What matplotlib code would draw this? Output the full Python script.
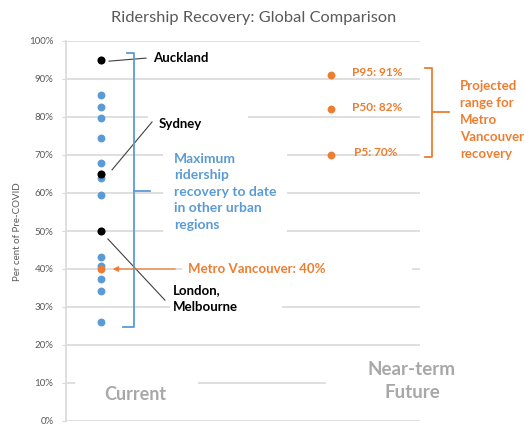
import matplotlib
matplotlib.use('Agg')
import matplotlib.pyplot as plt
from matplotlib.patches import Rectangle
import numpy as np

plt.rcParams['font.family'] = ['Lato', 'DejaVu Sans']

BLUE = '#5b9bd5'
ORANGE = '#ed7d31'
GRID = '#d9d9d9'
GREY = '#595959'
LIGHT = '#a8a8a8'

# other urban regions, max recovery to date (share of pre-COVID)
other_regions = [0.858, 0.827, 0.798, 0.746, 0.678, 0.640, 0.595,
                 0.431, 0.408, 0.373, 0.342, 0.261]
# highlighted cities
named_cities = ['Auckland', 'Sydney', 'London, Melbourne']
named_values = [0.95, 0.65, 0.50]
vancouver_now = 0.40
# near-term projection percentiles
proj_labels = ['P95', 'P50', 'P5']
proj_values = [0.91, 0.82, 0.70]
columns = ['Current', 'Near-term\nFuture']

fig = plt.figure(figsize=(5.24, 4.26), dpi=100)
W, H = 524, 426
ax = fig.add_axes([66 / W, 1 - 421 / H, (420 - 66) / W, (421 - 41) / H])

x_cur, x_fut = 0, 1
ax.set_xlim(-35 / 230, 319 / 230)
ax.set_ylim(0, 1)

ax.set_yticks(np.arange(0, 1.01, 0.1))
ax.set_yticklabels(['%d%%' % round(v * 100) for v in np.arange(0, 1.01, 0.1)])
ax.set_xticks([])
ax.yaxis.grid(True, color=GRID, lw=1.2, zorder=0)
ax.set_axisbelow(True)
ax.tick_params(axis='y', length=3, color=GRID, labelsize=7,
               labelcolor=GREY, pad=6)
for side in ['top', 'right', 'bottom']:
    ax.spines[side].set_visible(False)
ax.spines['left'].set_color(GRID)
ax.spines['left'].set_linewidth(1.2)


def fbox(x0, y0, x1, y1):
    # white backing that hides gridlines behind a text block (pixel coords)
    ax.add_patch(Rectangle((x0 / W, 1 - y1 / H), (x1 - x0) / W, (y1 - y0) / H,
                           transform=fig.transFigure, fc='white', ec='none',
                           zorder=1))


fbox(163, 140, 287, 240)   # blue note
fbox(148, 108, 248, 135)   # Sydney
fbox(170, 280, 282, 318)   # London, Melbourne
fbox(182, 260, 412, 278)   # Metro Vancouver
fbox(75, 375, 198, 410)    # Current
fbox(326, 355, 420, 408)   # Near-term Future

# points
ax.scatter([x_cur] * len(other_regions), other_regions, s=32, color=BLUE,
           zorder=3, linewidths=0)
ax.scatter([x_cur] * len(named_values), named_values, s=34, color='black',
           zorder=4, linewidths=0)
ax.scatter([x_cur], [vancouver_now], s=32, color=ORANGE, zorder=4,
           linewidths=0)
ax.scatter([x_fut] * len(proj_values), proj_values, s=32, color=ORANGE,
           zorder=3, linewidths=0)

# city labels with leader lines
label_kw = dict(fontsize=9.5, fontweight='bold', color='black', va='center',
                zorder=5)
ax.plot([0.035, 0.196], [named_values[0] - 0.003, named_values[0] + 0.005],
        color='#404040', lw=0.8, zorder=3)
ax.text(0.226, 0.955, named_cities[0], **label_kw)
ax.plot([0.048, 0.222], [named_values[1] + 0.011, 0.787],
        color='#404040', lw=0.8, zorder=3)
ax.text(0.252, 0.782, named_cities[1], **label_kw)
ax.plot([0.03, 0.278], [named_values[2] - 0.021, 0.318],
        color='#404040', lw=0.8, zorder=3)
ax.text(0.313, 0.322, named_cities[2].replace(' ', '\n'), linespacing=1.55,
        **label_kw)

# Metro Vancouver arrow
ax.annotate('', xy=(0.039, vancouver_now), xytext=(0.335, vancouver_now),
            arrowprops=dict(arrowstyle='-|>', color=ORANGE, lw=0.9,
                            mutation_scale=8), zorder=5)
ax.text(0.378, vancouver_now, 'Metro Vancouver: %d%%' % round(vancouver_now * 100),
        fontsize=9.5, fontweight='bold', color=ORANGE, va='center', zorder=5)

# blue bracket around other regions
bx, btop, bbot, bmid = 0.143, 0.968, 0.247, 0.605
ax.plot([0.113, bx, bx, 0.096], [btop, btop, bbot, bbot], color=BLUE, lw=1.3,
        zorder=3, solid_joinstyle='round')
ax.plot([bx, 0.213], [bmid, bmid], color=BLUE, lw=1.3, zorder=3)
ax.text(0.317, 0.603,
        'Maximum\nridership\nrecovery to date\nin other urban\nregions',
        fontsize=10, fontweight='bold', color=BLUE, va='center', ha='left',
        linespacing=1.45, zorder=5)

# projection labels
for lab, val, dx in zip(proj_labels, proj_values, [0.091, 0.091, 0.1]):
    ax.text(x_fut + dx, val + 0.006, '%s: %d%%' % (lab, round(val * 100)),
            fontsize=8.5, fontweight='bold', color=ORANGE, va='center',
            zorder=5)

# orange bracket for projected range
ox, otop, obot, omid = 1.439, 0.929, 0.695, 0.813
ax.plot([1.409, ox, ox, 1.409], [otop, otop, obot, obot], color=ORANGE,
        lw=1.3, clip_on=False, zorder=3)
ax.plot([ox, 1.513], [omid, omid], color=ORANGE, lw=1.3, clip_on=False,
        zorder=3)
ax.text(1.561, 0.792,
        'Projected\nrange for\nMetro\nVancouver\nrecovery',
        fontsize=9.5, fontweight='bold', color=ORANGE, va='center',
        ha='left', linespacing=1.5, clip_on=False, zorder=5)

# column captions
ax.text(0.148, 0.071, columns[0], fontsize=13, fontweight='bold',
        color=LIGHT, ha='center', va='center', zorder=5)
ax.text(1.352, 0.105, columns[1], fontsize=13.5, fontweight='bold',
        color=LIGHT, ha='center', va='center', linespacing=1.45, zorder=5)

fig.text(254 / W, 1 - 18 / H, 'Ridership Recovery: Global Comparison',
         fontsize=11.8, color=GREY, ha='center', va='center')
fig.text(18 / W, 1 - 232 / H, 'Per cent of Pre-COVID', fontsize=7,
         color=GREY, rotation=90, ha='center', va='center')

fig.savefig('out.png', dpi=100)
